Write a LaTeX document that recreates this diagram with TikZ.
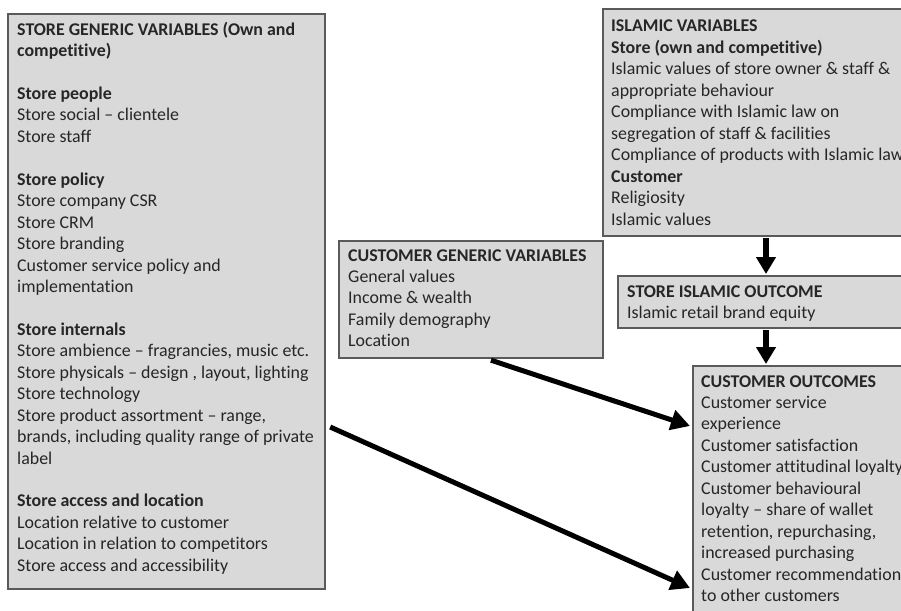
\documentclass[tikz,border=0pt]{standalone}
\usepackage{fontspec}
\setmainfont{Carlito}[Ligatures=NoCommon]
\usetikzlibrary{arrows.meta,calc}
\definecolor{boxfill}{HTML}{D9D9D9}
\definecolor{boxline}{HTML}{5A5A5A}
\definecolor{txt}{HTML}{262626}
\begin{document}
\begin{tikzpicture}[x=1pt,y=-1pt,
  boxshape/.style={draw=boxline,fill=boxfill,line width=2.2pt,rectangle,anchor=north west,inner sep=0pt},
  boxtext/.style={anchor=base west,inner sep=0pt,align=left,text=txt,font=\fontsize{17.9}{21.45}\selectfont},
  arr/.style={line width=5pt,-{Triangle[length=19pt,width=20pt]}},
  varr/.style={line width=6pt,-{Triangle[length=17pt,width=19pt]}}]
\useasboundingbox (0,0) rectangle (901,610);
\begin{scope}
\clip (0,0) rectangle (901,610);
% boxes
\node[boxshape,minimum width=317pt,minimum height=575pt] (sgv) at (7,13) {};
\node[boxshape,minimum width=264pt,minimum height=117pt] (cgv) at (338,240) {};
\node[boxshape,minimum width=320pt,minimum height=227pt] (isl) at (602,8) {};
\node[boxshape,minimum width=305pt,minimum height=52pt] (sio) at (617,275) {};
\node[boxshape,minimum width=230pt,minimum height=260pt] (co) at (692,365) {};
% texts (anchored at the baseline of their last line)
\node[boxtext] (sgvt) at (17,571.3) {\textbf{STORE GENERIC VARIABLES (Own and}\\
\textbf{competitive)}\\[21.45pt]
\textbf{Store people}\\
Store social – clientele\\
Store staff\\[21.45pt]
\textbf{Store policy}\\
Store company CSR\\
Store CRM\\
Store branding\\
Customer service policy and\\
implementation\\[21.45pt]
\textbf{Store internals}\\
Store ambience – fragrancies, music etc.\\
Store physicals – design , layout, lighting\\
Store technology\\
Store product assortment – range,\\
brands, including quality range of private\\
label\\[21.45pt]
\textbf{Store access and location}\\
Location relative to customer\\
Location in relation to competitors\\
Store access and accessibility};
\node[boxtext] (cgvt) at (348,346.8) {\textbf{CUSTOMER GENERIC VARIABLES}\\
General values\\
Income \& wealth\\
Family demography\\
Location};
\node[boxtext] (islt) at (611,225) {\textbf{ISLAMIC VARIABLES}\\
\textbf{Store (own and competitive)}\\
Islamic values of store owner \& staff \&\\
appropriate behaviour\\
Compliance with Islamic law on\\
segregation of staff \& facilities\\
Compliance of products with Islamic law\\
\textbf{Customer}\\
Religiosity\\
Islamic values};
\node[boxtext] (siot) at (627,318.5) {\textbf{STORE ISLAMIC OUTCOME}\\
Islamic retail brand equity};
\node[boxtext] (cot) at (701,601.5) {\textbf{CUSTOMER OUTCOMES}\\
Customer service\\
experience\\
Customer satisfaction\\
Customer attitudinal loyalty\\
Customer behavioural\\
loyalty – share of wallet\\
retention, repurchasing,\\
increased purchasing\\
Customer recommendation\\
to other customers};
\end{scope}
% connectors
\draw[varr] ($(isl.south west)+(164,1)$) -- ($(sio.north west)+(149,-1)$);
\draw[varr] ($(sio.south west)+(149,1)$) -- ($(co.north west)+(74,-1)$);
\draw[arr] ($(cgv.south west)+(153,1)$) -- ($(co.north west)+(-2,61)$);
\draw[arr] ($(sgv.north east)+(4,414)$) -- ($(co.north west)+(-2,223)$);
\end{tikzpicture}
\end{document}
